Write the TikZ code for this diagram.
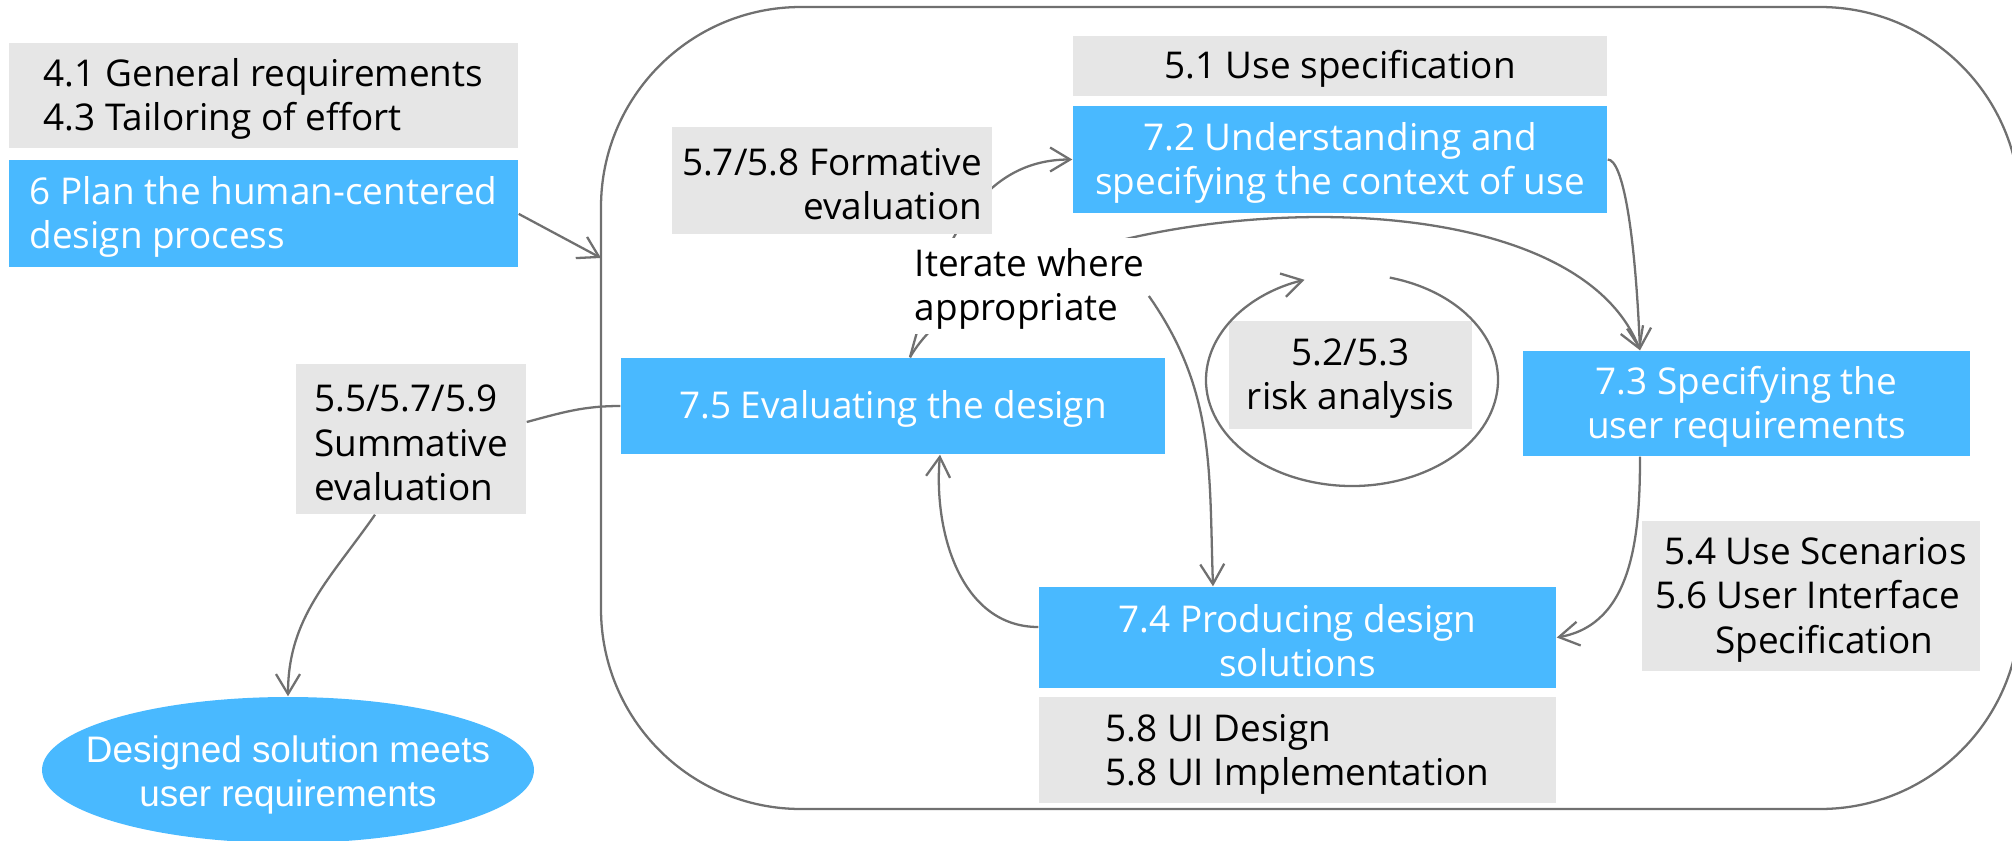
\documentclass[tikz,border=0pt]{standalone}
\usepackage{fontspec}
\setmainfont{Open Sans}
\newfontfamily\arialfont{Liberation Sans}
\usepackage{xcolor}
\usepackage{tikz}
\usetikzlibrary{positioning, calc, shapes.geometric, arrows.meta, backgrounds}

\definecolor{hcdblue}{RGB}{73,185,255}
\definecolor{hcdgray}{RGB}{230,230,230}
\definecolor{hcdline}{RGB}{112,112,112}

% taller first line, so the text sits a little lower in its box
\newcommand{\lift}{\rule{0pt}{9.8pt}}

\tikzset{
    boxtext/.style = {font=\fontsize{10.5}{12.6}\selectfont, inner sep=0pt},
    graybox/.style = {boxtext, rectangle, fill=hcdgray, text=black},
    bluebox/.style = {boxtext, rectangle, fill=hcdblue, text=white},
    flow/.style = {draw=hcdline, line width=0.65pt},
    goalshape/.style = {ellipse, fill=hcdblue, inner sep=0pt},
    goaltext/.style = {font=\arialfont\fontsize{10.5}{12.6}\selectfont,
        text=white, align=center}
}

\begin{document}
\begin{tikzpicture}[>={Straight Barb[length=2mm, width=2.4mm]}]
        \clip (0,0) rectangle (20.12,-8.40);

        \draw [flow, rounded corners=2cm] (6.01,-0.07) rectangle (20.20,-8.09);
        \coordinate (cyclein) at (6.01,-2.58);

        \node [graybox, minimum width=5.09cm, minimum height=1.05cm,
        align=left] (gen) at (2.635,-0.955) {\lift 4.1 General
        requirements\\4.3 Tailoring of effort};
        \node [bluebox, minimum width=5.09cm, minimum height=1.07cm,
        align=left, below=0.11cm of gen] (plan) {\lift 6 Plan the
        human-centered\\design process};

        \node [bluebox, minimum width=5.34cm, minimum height=1.07cm,
        align=center] (ctx) at (13.40,-1.595) {\lift 7.2 Understanding
        and\\specifying the context of use};
        \node [graybox, minimum width=5.34cm, minimum height=0.60cm,
        above=0.085cm of ctx] (usespec) {\lift 5.1 Use specification};
        \node [graybox, minimum width=3.20cm, minimum height=1.07cm,
        align=right] (form) at (8.32,-1.805) {\lift 5.7/5.8
        Formative\\evaluation};

        \node [bluebox, minimum width=5.44cm, minimum height=0.96cm]
        (eval) at (8.93,-4.06) {\lift 7.5 Evaluating the design};
        \node [graybox, minimum width=2.43cm, minimum height=1.08cm,
        align=center] (risk) at (13.505,-3.75) {\lift 5.2/5.3\\risk
        analysis};
        \node [bluebox, minimum width=4.47cm, minimum height=1.05cm,
        align=center] (req) at (17.465,-4.035) {\lift 7.3 Specifying
        the\\user requirements};
        \node [bluebox, minimum width=5.17cm, minimum height=1.01cm,
        align=center] (prod) at (12.975,-6.375) {\lift 7.4 Producing
        design\\solutions};
        \node [graybox, minimum width=5.17cm, minimum height=1.06cm,
        align=left, below=0.08cm of prod] (ui) {\lift 5.8 UI Design\\5.8
        UI Implementation};
        \node [graybox, minimum width=3.38cm, minimum height=1.50cm,
        align=left] (scen) at (18.11,-5.96) {\lift\hspace*{0.09cm}5.4 Use
        Scenarios\\5.6 User Interface\\\hspace*{0.6cm}Specification};
        \node [graybox, minimum width=2.30cm, minimum height=1.50cm,
        align=left] (summ) at (4.11,-4.39) {\lift
        5.5/5.7/5.9\\Summative\\evaluation};
        \node [goalshape, minimum width=4.92cm, minimum height=1.46cm,
        label={[goaltext]center:{\rule{0pt}{10.4pt}Designed solution
        meets\\user requirements}}] (goal) at (2.88,-7.70) {};

        \node [boxtext, fill=white, inner sep=0.04cm, align=left] (iter)
        at (10.295,-2.86) {\lift Iterate where\\appropriate};

        \coordinate (evtop) at ([xshift=0.17cm]eval.north);
        \coordinate (reqin) at ([xshift=-1.065cm]req.north);
        \coordinate (prodin) at ([xshift=-0.845cm]prod.north);
        \coordinate (riskc) at ([shift={(0.015,-0.05)}]risk.center);

        \begin{scope}[on background layer]
            \draw [flow, ->] (evtop) to [out=75, in=180] (ctx.west);
            \draw [flow, ->] (evtop) .. controls +(0.9,1.58) and
            +(-0.8,2.03) .. (reqin);
        \end{scope}

        \draw [flow, ->] (plan.east) -- (cyclein);
        \draw [flow, ->] (ctx.east) .. controls +(0.15,0) and +(-0.05,1.2)
        .. (reqin);
        \draw [flow, ->] ([xshift=-1.065cm]req.south) to [out=-90, in=10]
        (prod.east);
        \draw [flow, ->] ([yshift=-0.1cm]iter.east) to [out=-55, in=92]
        (prodin);
        \draw [flow, ->] ([yshift=0.105cm]prod.west) to [out=180, in=-95]
        ([xshift=0.47cm]eval.south);
        \draw [flow] (eval.west) to [out=180, in=15] ([yshift=0.17cm]summ.east);
        \draw [flow, ->] ([xshift=-0.36cm]summ.south) to [out=-125, in=90]
        (goal.north);
        \draw [flow, ->] ([shift={(75:1.46 and 1.06)}]riskc) arc [start
        angle=75, end angle=-251, x radius=1.46, y radius=1.06];
    \end{tikzpicture}
\end{document}
